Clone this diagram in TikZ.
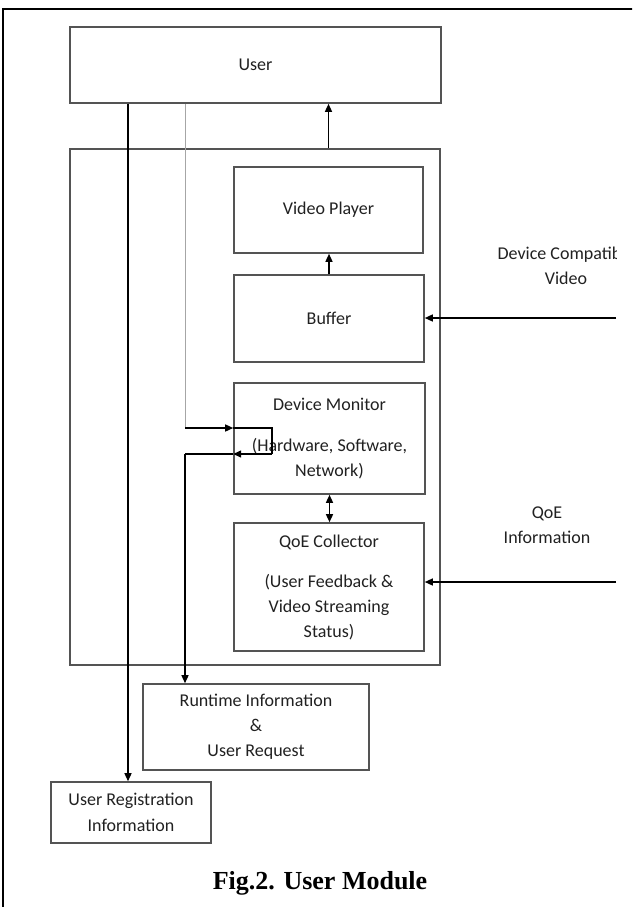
\documentclass[tikz,border=0pt]{standalone}
\usepackage{fontspec}
\setmainfont{Carlito}
\newfontfamily\capfont{Liberation Serif}
\usetikzlibrary{arrows.meta,calc}
\definecolor{boxc}{gray}{0.33}
\definecolor{txt}{gray}{0.13}
\begin{document}
\begin{tikzpicture}[x=1pt,y=-1pt,
  box/.style={draw=boxc, line width=1.6pt, rectangle, inner sep=0pt, align=center, text=txt, font=\fontsize{18}{25}\selectfont},
  lbl/.style={align=center, text=txt, inner sep=0pt, font=\fontsize{18}{25}\selectfont},
  tip/.tip={Triangle[length=8pt,width=7pt]},
  arr/.style={line width=1.4pt, -tip},
  ln/.style={line width=1.4pt},
  gline/.style={line width=0.9pt, draw=gray!70}]
\useasboundingbox (0,0) rectangle (632,907);
\fill[white] (0,0) rectangle (632,907);
\begin{scope}
  \clip (0,0) rectangle (632,907);
  \draw[line width=2pt] (3,915) -- (3,9) -- (640,9);
\end{scope}
% boxes
\node[box, minimum width=371pt, minimum height=76pt] (user) at (255.5,65) {User};
\node[box, minimum width=370pt, minimum height=516pt] (cont) at (255,407) {};
\node[box, minimum width=189pt, minimum height=86pt] (vp) at (328.5,210) {Video Player};
\node[box, minimum width=190pt, minimum height=87pt] (buf) at (329,318.5) {Buffer};
\node[box, minimum width=191pt, minimum height=111pt] (dm) at (329.5,438.5) {Device Monitor\\[16pt](Hardware, Software,\\Network)};
\node[box, minimum width=190pt, minimum height=128pt] (qoe) at (329,587) {QoE Collector\\[15pt](User Feedback \&\\Video Streaming\\Status)};
\node[box, minimum width=226pt, minimum height=86pt] (rt) at (256,727) {Runtime Information\\\&\\User Request};
\node[box, minimum width=160pt, minimum height=61pt, font=\fontsize{18}{26}\selectfont] (reg) at (131,812.5) {User Registration\\Information};
% right labels (cut at the right edge as in the picture)
\begin{scope}
  \clip (0,0) rectangle (616,907);
  \node[lbl] (dcv) at (566,266) {Device Compatible\\Video};
  \node[lbl] (qoei) at (547,525) {QoE\\Information};
\end{scope}
% helper coordinates
\coordinate (xL) at (128,0);
\coordinate (xG) at (185,0);
\coordinate (xR) at (272,0);
\coordinate (yA) at (0,428);
\coordinate (yB) at (0,454);
\coordinate (r1) at (616,318);
\coordinate (r2) at (616,582);
% connectors
\draw[arr] (vp.north |- cont.north) -- (vp.north |- user.south);
\draw[arr] (buf.north) -- (buf.north |- vp.south);
\draw[line width=1.4pt, tip-tip] (dm.south) -- (dm.south |- qoe.north);
\draw[arr] (r1) -- (buf.east |- r1);
\draw[arr] (r2) -- (qoe.east |- r2);
\draw[arr] (user.south -| xL) -- (reg.north -| xL);
\draw[gline] (user.south -| xG) -- (xG |- yA);
\draw[arr] (xG |- yA) -- (dm.west |- yA);
\draw[ln] (dm.west |- yA) -- (xR |- yA) -- (xR |- yB);
\draw[arr] (xR |- yB) -- (dm.west |- yB);
\draw[ln] (dm.west |- yB) -- (xG |- yB);
\draw[arr] (xG |- yB) -- (rt.north -| xG);
% caption
\node[font=\capfont\bfseries\fontsize{26}{30}\selectfont, anchor=base, inner sep=0pt] (cap) at (320,889) {Fig.2. User Module};
\end{tikzpicture}
\end{document}
